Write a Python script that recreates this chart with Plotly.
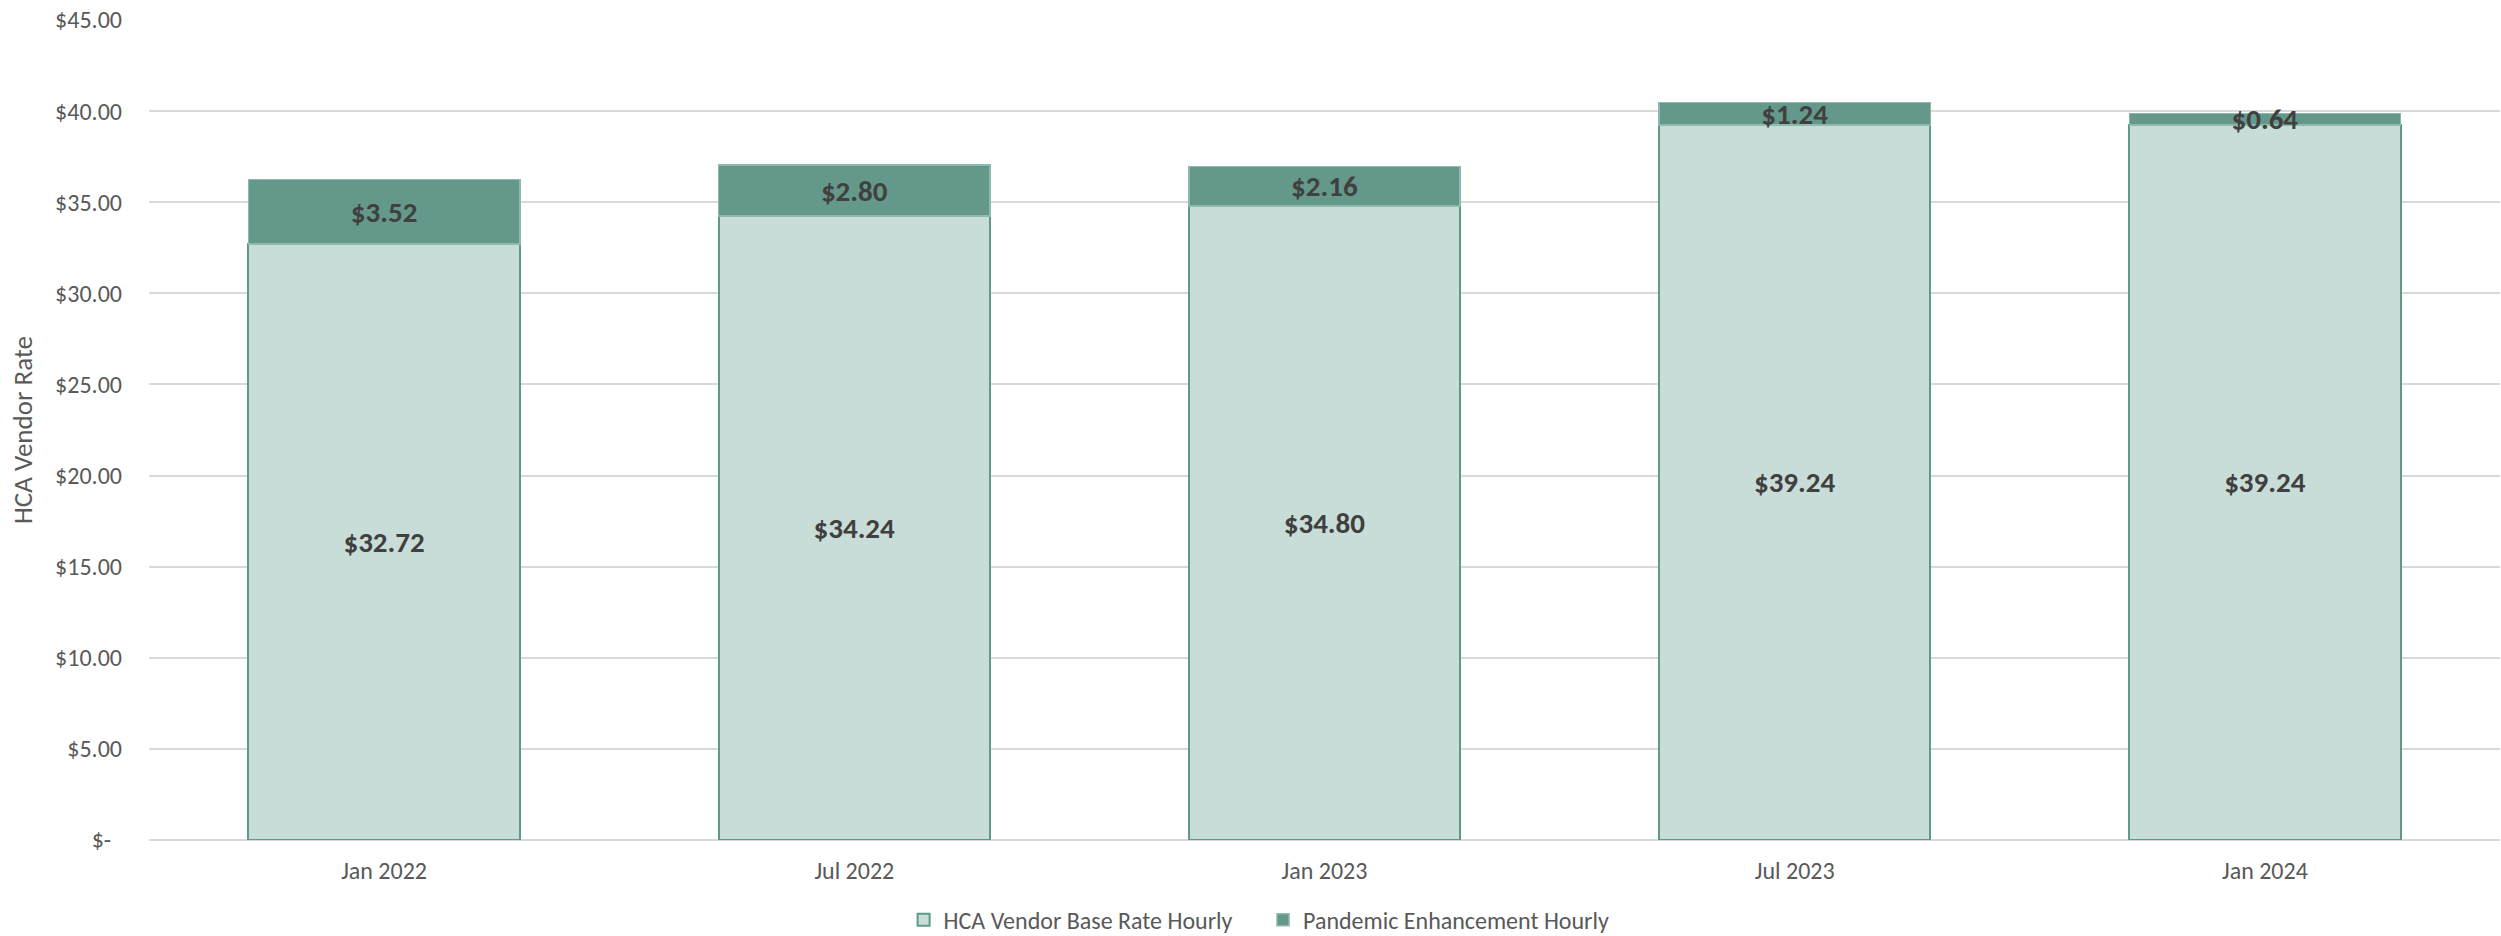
import plotly.graph_objects as go

# Hourly vendor rate by period
periods = ["Jan 2022", "Jul 2022", "Jan 2023", "Jul 2023", "Jan 2024"]
base_rate = [32.72, 34.24, 34.80, 39.24, 39.24]
pandemic_enh = [3.52, 2.80, 2.16, 1.24, 0.64]

y_ticks = [0, 5, 10, 15, 20, 25, 30, 35, 40, 45]
y_tick_text = ["$-\u00a0\u00a0", "$5.00", "$10.00", "$15.00", "$20.00", "$25.00",
               "$30.00", "$35.00", "$40.00", "$45.00"]

FONT = "Calibri, Carlito, Lato, sans-serif"
GREY = "#595959"
LABEL = "#404040"

fig = go.Figure()
fig.add_trace(go.Bar(
    name="HCA Vendor Base Rate Hourly",
    x=periods, y=base_rate,
    marker=dict(color="#C9DDD8", line=dict(color="#5E9A8C", width=2)),
    text=[f"${v:.2f}" for v in base_rate],
    textposition="inside", insidetextanchor="middle",
    textfont=dict(family=FONT, size=29, color=LABEL, weight="bold"),
    legend="legend",
))
fig.add_trace(go.Bar(
    name="Pandemic Enhancement Hourly",
    x=periods, y=pandemic_enh,
    marker=dict(color="#64988A", line=dict(color="#8FB8AE", width=1.5)),
    text=[f"${v:.2f}" for v in pandemic_enh],
    textposition="inside", insidetextanchor="middle",
    constraintext="none",
    textfont=dict(family=FONT, size=29, color=LABEL, weight="bold"),
    legend="legend2",
))

legend_common = dict(
    orientation="h",
    xref="container", yref="container",
    xanchor="left", y=0.017, yanchor="middle",
    font=dict(family=FONT, size=24, color=GREY),
    bgcolor="rgba(0,0,0,0)",
)

fig.update_layout(
    barmode="stack",
    bargap=0.423,
    width=2501, height=936,
    margin=dict(l=149, r=1, t=20, b=96),
    paper_bgcolor="white", plot_bgcolor="white",
    font=dict(family=FONT, size=24, color=GREY),
    uniformtext=dict(minsize=29, mode="show"),
    showlegend=True,
    legend=dict(x=0.3613, **legend_common),
    legend2=dict(x=0.505, **legend_common),
    xaxis=dict(
        showgrid=False, showline=False, zeroline=False, ticks="",
        ticklabelstandoff=14,
        tickfont=dict(family=FONT, size=24, color=GREY),
    ),
    yaxis=dict(
        range=[0, 45],
        tickvals=y_ticks, ticktext=y_tick_text,
        showgrid=True, gridcolor="#D9D9D9", gridwidth=1.5,
        zeroline=True, zerolinecolor="#D9D9D9", zerolinewidth=1.5,
        showline=False, ticks="",
        ticklabelstandoff=26,
        tickfont=dict(family=FONT, size=24, color=GREY),
        title=dict(text="HCA Vendor Rate", standoff=14,
                   font=dict(family=FONT, size=27, color=GREY)),
    ),
)

fig.write_html("out.html")
